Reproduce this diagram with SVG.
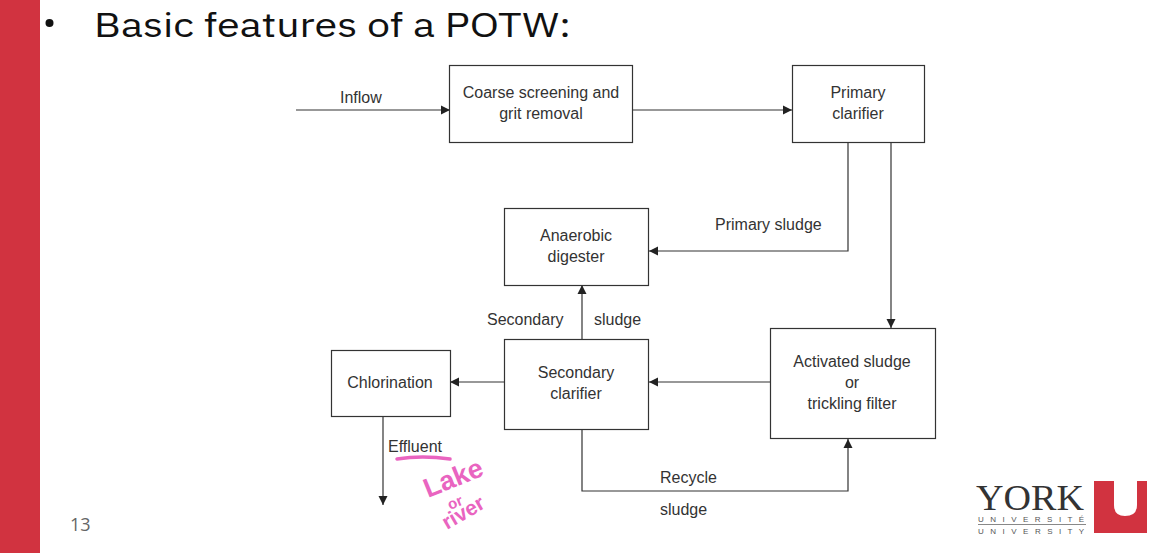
<svg xmlns="http://www.w3.org/2000/svg" width="1170" height="553" viewBox="0 0 1170 553">
<defs>
<marker id="a" markerUnits="userSpaceOnUse" markerWidth="10" markerHeight="10" refX="9" refY="5" orient="auto"><path d="M0 0.5L9 5L0 9.5Z" fill="#222"/></marker>
</defs>
<style>
.box{fill:#fff;stroke:#333;stroke-width:1.2}
.t{font-family:"Liberation Sans",Arial,sans-serif;font-size:16px;fill:#333;text-anchor:middle}
.l{font-family:"Liberation Sans",Arial,sans-serif;font-size:16px;fill:#333}
.c{fill:none;stroke:#333;stroke-width:1.2;marker-end:url(#a)}
.ink{font-family:"Liberation Sans",Arial,sans-serif;font-weight:bold;fill:#e964c0}
</style>
<rect width="1170" height="553" fill="#fff"/>
<rect x="0" y="0" width="40" height="553" fill="#d13340"/>
<g id="title">
<circle cx="49.500" cy="23" r="4" fill="#111"/>
<text x="94" y="37" font-family="'IBM Plex Sans','Open Sans','Noto Sans',sans-serif" font-size="33" fill="#111" textLength="477" lengthAdjust="spacingAndGlyphs">Basic features of a POTW:</text>
</g>
<g id="connectors">
<path class="c" d="M296 110H450"/>
<path class="c" d="M633 110H792"/>
<path class="c" d="M848 142V251H649"/>
<path class="c" d="M891 142V328"/>
<path class="c" d="M770 382H649"/>
<path class="c" d="M582 339V285"/>
<path class="c" d="M504 382H450"/>
<path class="c" d="M582 429V491H848V439"/>
<path class="c" d="M383 416V505"/>
</g>
<g id="inflow-label"><text class="l" x="340" y="103">Inflow</text></g>
<g id="coarse-screening"><rect class="box" x="449.500" y="65.500" width="183" height="77"/><text class="t" x="541" y="98">Coarse screening and</text><text class="t" x="541" y="119">grit removal</text></g>
<g id="primary-clarifier"><rect class="box" x="792.500" y="65.500" width="132" height="77"/><text class="t" x="858" y="98">Primary</text><text class="t" x="858" y="119">clarifier</text></g>
<g id="anaerobic-digester"><rect class="box" x="504.500" y="208.500" width="144" height="77"/><text class="t" x="576" y="241">Anaerobic</text><text class="t" x="576" y="262">digester</text></g>
<g id="secondary-clarifier"><rect class="box" x="504.500" y="339.500" width="144" height="90"/><text class="t" x="576" y="378">Secondary</text><text class="t" x="576" y="399">clarifier</text></g>
<g id="activated-sludge"><rect class="box" x="770.500" y="328.500" width="165" height="110"/><text class="t" x="852" y="367">Activated sludge</text><text class="t" x="852" y="388">or</text><text class="t" x="852" y="409">trickling filter</text></g>
<g id="chlorination"><rect class="box" x="331.500" y="350.500" width="119" height="66"/><text class="t" x="390" y="388">Chlorination</text></g>
<g id="labels">
<text class="l" x="715" y="230">Primary sludge</text>
<text class="l" x="487" y="325">Secondary</text>
<text class="l" x="594" y="325">sludge</text>
<text class="l" x="388" y="452">Effluent</text>
<text class="l" x="660" y="483">Recycle</text>
<text class="l" x="660" y="515">sludge</text>
</g>
<g id="annotation">
<path d="M397 459Q422 455 450 459" fill="none" stroke="#e964c0" stroke-width="3.500" stroke-linecap="round"/>
<text class="ink" font-size="27" transform="translate(428 498) rotate(-22)">Lake</text>
<text class="ink" font-size="15" transform="translate(450 510) rotate(-22)">or</text>
<text class="ink" font-size="21" transform="translate(447 530) rotate(-30)">river</text>
</g>
<text x="70" y="531" font-family="'Open Sans','Noto Sans',sans-serif" font-size="18" fill="#666">13</text>
<g id="york-logo">
<text x="976" y="510" font-family="'Liberation Serif',serif" font-size="36" fill="#333" textLength="108" lengthAdjust="spacingAndGlyphs">YORK</text>
<text x="978" y="522" font-family="'Liberation Sans',sans-serif" font-size="8" fill="#555" textLength="106">U N I V E R S I T É</text>
<path d="M978 524.500H1086" stroke="#888" stroke-width="1"/>
<text x="978" y="534" font-family="'Liberation Sans',sans-serif" font-size="8" fill="#555" textLength="106">U N I V E R S I T Y</text>
<path d="M1094 481H1114V505Q1114 516 1125 516Q1137 516 1137 505V481H1147V515Q1147 533 1147 533H1094Z" fill="#d13340"/>
</g>
</svg>
